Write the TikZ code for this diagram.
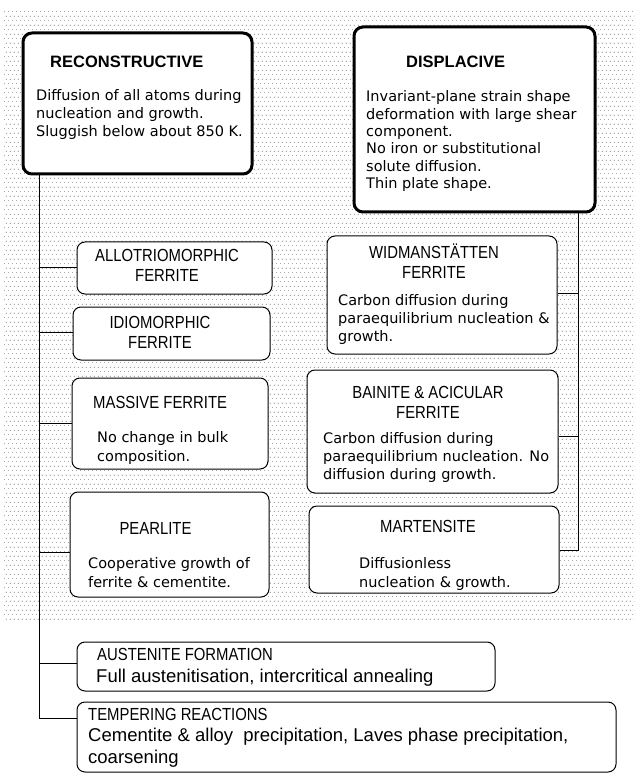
\documentclass[tikz,border=0pt]{standalone}
\usepackage{fontspec}
\setmainfont{DejaVu Sans}
\newfontfamily\hfont[FakeStretch=0.85]{Liberation Sans}
\newfontfamily\lfont{Liberation Sans}
\usetikzlibrary{patterns.meta}
\tikzdeclarepattern{
  name=bgdots,
  type=uncolored,
  bounding box={(0pt,0pt) and (4.4pt,9.4pt)},
  tile size={(4.4pt,9.4pt)},
  code={
    \fill (0pt,0pt) rectangle (0.75pt,0.75pt);
    \fill (2.2pt,4.7pt) rectangle (2.95pt,5.45pt);
  }
}
\tikzset{
  box/.style={draw, rounded corners=8pt, fill=white, inner sep=0pt, line width=1pt},
  mainbox/.style={box, line width=3pt, rounded corners=9pt},
  link/.style={line width=1pt},
  body/.style={font=\fontsize{14.5}{18}\selectfont, inner sep=0pt, anchor=base west, align=left},
  head/.style={font=\hfont\fontsize{17.5}{20}\selectfont, inner sep=0pt, anchor=base, align=center},
  headl/.style={font=\hfont\fontsize{17.5}{20}\selectfont, inner sep=0pt, anchor=base west, align=left},
  titl/.style={font=\lfont\bfseries\fontsize{16.5}{20}\selectfont, inner sep=0pt, anchor=base west},
  lowbody/.style={font=\lfont\fontsize{18.5}{22}\selectfont, inner sep=0pt, anchor=base west, align=left}
}
\begin{document}
\begin{tikzpicture}[x=1pt,y=-1pt]
\useasboundingbox (0,0) rectangle (634,783);
\fill[white] (0,0) rectangle (634,783);
\fill[pattern=bgdots, pattern color=black!80] (3,10) rectangle (634,621);

% boxes
\node[mainbox, minimum width=229, minimum height=141] (recon) at (137.5,103.5) {};
\node[mainbox, minimum width=241, minimum height=185] (displ) at (474.5,119.5) {};
\node[box, minimum width=195, minimum height=52] (allo) at (174.5,268) {};
\node[box, minimum width=197, minimum height=53] (idio) at (171.5,333.5) {};
\node[box, minimum width=196, minimum height=91] (mass) at (170,423.5) {};
\node[box, minimum width=199, minimum height=105] (pearl) at (169.5,544.5) {};
\node[box, minimum width=230, minimum height=118] (widm) at (442,295) {};
\node[box, minimum width=251, minimum height=123] (bain) at (432.5,431.5) {};
\node[box, minimum width=250, minimum height=87] (mart) at (434,549.5) {};
\node[box, minimum width=418, minimum height=49] (aust) at (286,666.5) {};
\node[box, minimum width=539, minimum height=70] (temp) at (346.5,737) {};

% connectors
\coordinate (b1) at (39,267);
\coordinate (b2) at (39,332);
\coordinate (b3) at (39,423);
\coordinate (b4) at (39,552);
\coordinate (b5) at (39,663);
\coordinate (b6) at (39,718);
\draw[link] (recon.south -| b1) -- (b6) -- (temp.west |- b6);
\draw[link] (b1) -- (allo.west |- b1);
\draw[link] (b2) -- (idio.west |- b2);
\draw[link] (b3) -- (mass.west |- b3);
\draw[link] (b4) -- (pearl.west |- b4);
\draw[link] (b5) -- (aust.west |- b5);
\coordinate (c1) at (578,293);
\coordinate (c2) at (578,436);
\coordinate (c3) at (578,550);
\draw[link] (displ.south -| c1) -- (c3) -- (mart.east |- c3);
\draw[link] (c1) -- (widm.east |- c1);
\draw[link] (c2) -- (bain.east |- c2);

% texts (multi-line nodes are placed by the baseline of their last line)
\node[titl] (recont) at (50,68) {RECONSTRUCTIVE};
\node[body] (reconb) at (36,137) {Diffusion of all atoms during\\nucleation and growth.\\Sluggish below about 850 K.};
\node[titl] (displt) at (406,68) {DISPLACIVE};
\node[body, font=\fontsize{14.5}{17.3}\selectfont] (displb) at (366,188.5) {Invariant-plane strain shape\\deformation with large shear\\component.\\No iron or substitutional\\solute diffusion.\\Thin plate shape.};
\node[head] (allot) at (167,281) {ALLOTRIOMORPHIC\\FERRITE};
\node[head] (idiot) at (160,348) {IDIOMORPHIC\\FERRITE};
\node[headl] (masst) at (93,408) {MASSIVE FERRITE};
\node[body, font=\fontsize{14.5}{19}\selectfont] (massb) at (97,461) {No change in bulk\\composition.};
\node[head] (pearlt) at (155.5,534) {PEARLITE};
\node[body, font=\fontsize{14.5}{19}\selectfont] (pearlb) at (88,587) {Cooperative growth of\\ferrite \& cementite.};
\node[head] (widmt) at (434,278) {WIDMANSTÄTTEN\\FERRITE};
\node[body] (widmb) at (338,341) {Carbon diffusion during\\paraequilibrium nucleation \&\\growth.};
\node[head] (baint) at (428,418) {BAINITE \& ACICULAR\\FERRITE};
\node[body] (bainb) at (323,479) {Carbon diffusion during\\paraequilibrium nucleation. No\\diffusion during growth.};
\node[head] (martt) at (428,532) {MARTENSITE};
\node[body, font=\fontsize{14.5}{19}\selectfont] (martb) at (359,587) {Diffusionless\\nucleation \& growth.};
\node[headl] (austt) at (97,660) {AUSTENITE FORMATION};
\node[lowbody] (austb) at (96,682) {Full austenitisation, intercritical annealing};
\node[headl] (tempt) at (88,720) {TEMPERING REACTIONS};
\node[lowbody] (tempb) at (88,763) {Cementite \& alloy\ \ precipitation, Laves phase precipitation,\\coarsening};
\end{tikzpicture}
\end{document}
